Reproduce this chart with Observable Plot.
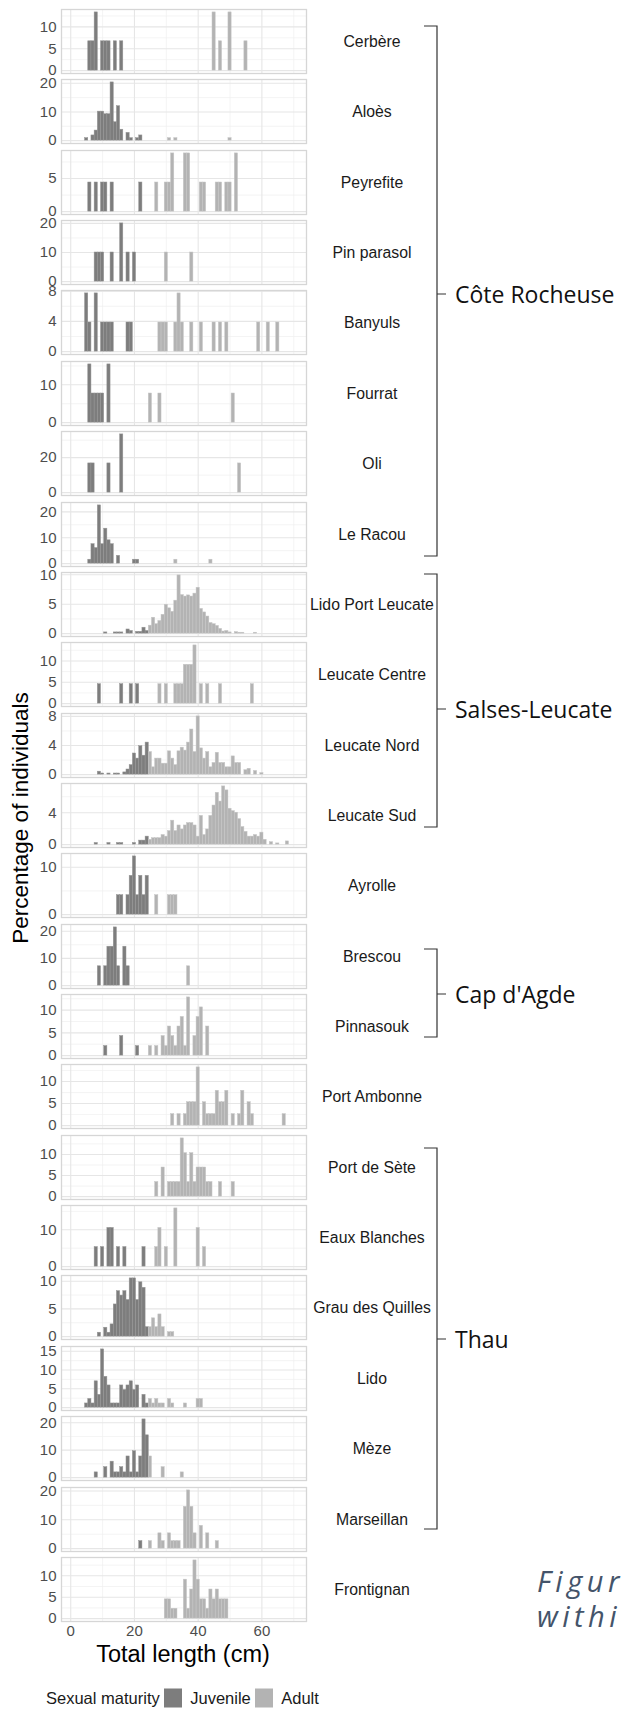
<!DOCTYPE html>
<html><head><meta charset="utf-8">
<script src="https://cdn.jsdelivr.net/npm/d3@7"></script>
<script src="https://cdn.jsdelivr.net/npm/@observablehq/plot@0.6"></script>
<style>
html,body{margin:0;padding:0;background:#fff;}
body{width:621px;height:1709px;position:relative;overflow:hidden;font-family:"Liberation Sans",Arial,sans-serif;}
.panel{position:absolute;left:0;}
.site{position:absolute;transform:translate(-50%,-50%);font-size:15.8px;color:#1a1a1a;white-space:nowrap;}
.group{position:absolute;transform:translateY(-50%);font-family:"Open Sans","Noto Sans",sans-serif;font-size:23px;color:#111;white-space:nowrap;}
.ytitle{position:absolute;left:21px;top:818px;transform:translate(-50%,-50%) rotate(-90deg);font-size:22.5px;color:#000;white-space:nowrap;}
.xtitle{position:absolute;left:183px;top:1654px;transform:translate(-50%,-50%);font-size:23.5px;color:#000;white-space:nowrap;}
.legend{position:absolute;left:46px;top:1698px;transform:translateY(-50%);display:flex;align-items:center;font-size:16.5px;color:#1a1a1a;white-space:nowrap;}
.sw{display:inline-block;width:18.5px;height:18.5px;margin:0 8px 0 4px;}
.caption{position:absolute;left:537px;top:1563px;width:84px;overflow:hidden;font-family:"Open Sans","Noto Sans",sans-serif;font-style:italic;font-size:29px;letter-spacing:4.5px;line-height:35px;color:#44546a;white-space:nowrap;}
</style></head><body>
<script>
// ---------- data: percentage of individuals per 1-cm length bin ----------
const sites = ["Cerbère","Aloès","Peyrefite","Pin parasol","Banyuls","Fourrat","Oli","Le Racou",
  "Lido Port Leucate","Leucate Centre","Leucate Nord","Leucate Sud","Ayrolle","Brescou","Pinnasouk",
  "Port Ambonne","Port de Sète","Eaux Blanches","Grau des Quilles","Lido","Mèze","Marseillan","Frontignan"];

const yTicks = [[0,5,10],[0,10,20],[0,5],[0,10,20],[0,4,8],[0,10],[0,20],[0,10,20],
  [0,5,10],[0,5,10],[0,4,8],[0,4],[0,10],[0,10,20],[0,5,10],
  [0,5,10],[0,5,10],[0,10],[0,5,10],[0,5,10,15],[0,10,20],[0,10,20],[0,5,10]];

const xTicks = [0,20,40,60];
const xMinor = [10,30,50,70];
const stages = ["Juvenile","Adult"];

const juvCerbere = [[6,6.7],[7,6.7],[8,13.3],[10,6.7],[11,6.7],[12,6.7],[14,6.7],[16,6.7]];
const aduCerbere = [[45,13.3],[47,6.7],[50,13.3],[55,6.7]];

const juvAloes = [[5,0.85],[7,1.8],[8,3.5],[9,10.1],[10,10.1],[11,9.2],[12,9.2],[13,20.3],[14,6.4],[15,12.0],[16,3.8],[18,2.7],[19,0.85],[21,0.85],[22,1.8]];
const aduAloes = [[31,0.85],[33,0.85],[50,0.85]];

const juvPeyrefite = [[6,4.4],[8,4.4],[10,4.4],[11,4.4],[13,4.4],[22,4.4]];
const aduPeyrefite = [[27,4.4],[30,4.4],[31,4.4],[32,8.8],[36,8.8],[37,8.8],[41,4.4],[42,4.4],[46,4.4],[47,4.4],[49,4.4],[50,4.4],[52,8.8]];

const juvPinParasol = [[8,10],[9,10],[10,10],[13,10],[16,20],[18,10],[20,10]];
const aduPinParasol = [[30,10],[38,10]];

const juvBanyuls = [[5,7.7],[6,3.85],[8,7.7],[10,3.85],[11,3.85],[12,3.85],[13,3.85],[18,3.85],[19,3.85]];
const aduBanyuls = [[28,3.85],[29,3.85],[30,3.85],[33,3.85],[34,7.7],[35,3.85],[38,3.85],[41,3.85],[45,3.85],[47,3.85],[49,3.85],[59,3.85],[62,3.85],[65,3.85]];

const juvFourrat = [[6,15.4],[7,7.7],[8,7.7],[9,7.7],[10,7.7],[12,15.4]];
const aduFourrat = [[25,7.7],[28,7.7],[51,7.7]];

const juvOli = [[6,16.7],[7,16.7],[12,16.7],[16,33.3]];
const aduOli = [[53,16.7]];

const juvLeRacou = [[6,1.5],[7,7.5],[8,6.0],[9,22.5],[10,7.5],[11,13.5],[12,9.0],[13,7.5],[15,3.0],[20,1.5],[21,1.5]];
const aduLeRacou = [[33,1.5],[44,1.5]];

const juvLidoPortLeucate = [[11,0.2],[14,0.2],[15,0.2],[16,0.2],[18,0.7],[19,0.45],[21,0.3],[22,0.3],[23,1.0],[24,0.45]];
const aduLidoPortLeucate = [[25,1.35],[26,2.7],[27,1.6],[28,2.15],[29,3.2],[30,4.9],[31,4.3],[32,3.7],[33,5.6],[34,9.9],[35,6.55],[36,6.3],[37,6.5],[38,6.3],[39,6.8],[40,7.8],[41,4.2],[42,3.6],[43,2.9],[44,1.8],[45,1.6],[46,1.3],[47,0.8],[48,0.35],[49,0.45],[50,0.2],[52,0.25],[53,0.15],[54,0.15],[58,0.15]];

const juvLeucateCentre = [[9,4.55],[16,4.55],[19,4.55],[21,4.55]];
const aduLeucateCentre = [[28,4.55],[30,4.55],[33,4.55],[34,4.55],[35,4.55],[36,9.09],[37,9.09],[38,9.09],[39,13.64],[41,4.55],[43,4.55],[47,4.55],[57,4.55]];

const juvLeucateNord = [[9,0.4],[10,0.15],[12,0.15],[14,0.15],[15,0.15],[17,0.3],[18,0.7],[19,1.3],[20,2.9],[21,2.2],[22,3.9],[23,2.6],[24,4.4]];
const aduLeucateNord = [[25,3.1],[26,1.0],[27,2.2],[28,2.2],[29,1.5],[30,1.5],[31,3.2],[32,2.2],[33,1.3],[34,3.2],[35,3.7],[36,3.3],[37,4.4],[38,6.2],[39,3.1],[40,8.0],[41,3.6],[42,2.2],[43,3.1],[44,1.0],[45,1.6],[46,3.0],[47,1.6],[48,1.6],[49,1.0],[50,1.0],[51,2.5],[52,1.6],[53,1.6],[55,0.6],[56,0.8],[58,0.5],[60,0.2]];

const juvLeucateSud = [[8,0.2],[12,0.2],[15,0.2],[16,0.2],[20,0.2],[22,0.5],[23,0.5],[24,1.0]];
const aduLeucateSud = [[25,0.6],[26,0.8],[27,0.8],[28,0.8],[29,1.2],[30,1.0],[31,1.7],[32,3.0],[33,1.7],[34,2.4],[35,1.9],[36,2.4],[37,2.7],[38,2.7],[39,2.4],[40,1.0],[41,3.6],[42,1.2],[43,1.9],[44,3.6],[45,4.9],[46,6.5],[47,5.4],[48,7.3],[49,6.8],[50,4.5],[51,4.2],[52,4.0],[53,3.2],[54,2.2],[55,1.6],[56,1.0],[57,1.0],[58,1.2],[59,1.0],[60,1.5],[61,0.6],[63,0.3],[65,0.15],[68,0.4]];

const juvAyrolle = [[15,4.1],[16,4.1],[18,4.1],[19,8.2],[20,12.3],[21,4.1],[22,8.2],[23,4.1],[24,8.2]];
const aduAyrolle = [[27,4.1],[31,4.1],[32,4.1],[33,4.1]];

const juvBrescou = [[9,7.1],[11,7.1],[12,14.3],[13,14.3],[14,21.4],[15,7.1],[17,14.3],[18,7.1]];
const aduBrescou = [[37,7.1]];

const juvPinnasouk = [[11,2.1],[16,4.3],[21,2.1]];
const aduPinnasouk = [[25,2.1],[27,2.1],[29,4.3],[30,2.1],[31,6.4],[32,4.3],[33,2.1],[34,6.4],[35,8.5],[36,2.1],[37,12.8],[39,4.3],[40,8.5],[41,10.6],[43,6.4]];

const juvPortAmbonne = [];
const aduPortAmbonne = [[32,2.6],[34,2.6],[36,2.6],[37,5.3],[38,5.3],[39,5.3],[40,13.2],[42,5.3],[43,2.6],[44,2.6],[45,2.6],[46,7.9],[47,5.3],[48,5.3],[49,7.9],[51,2.6],[53,2.6],[54,7.9],[56,5.3],[57,2.6],[67,2.6]];

const juvPortDeSete = [];
const aduPortDeSete = [[27,3.45],[29,6.9],[31,3.45],[32,3.45],[33,3.45],[34,3.45],[35,13.8],[36,10.3],[37,3.45],[38,10.3],[39,3.45],[40,6.9],[41,6.9],[42,6.9],[43,3.45],[44,3.45],[47,3.45],[51,3.45]];

const juvEauxBlanches = [[8,5.3],[10,5.3],[12,10.5],[13,10.5],[15,5.3],[17,5.3],[23,5.3]];
const aduEauxBlanches = [[27,5.3],[28,10.5],[30,5.3],[33,15.8],[40,10.5],[42,5.3]];

const juvGrauDesQuilles = [[9,0.7],[11,1.6],[12,0.7],[13,2.2],[14,5.8],[15,8.2],[16,7.4],[17,8.2],[18,6.6],[19,10.5],[20,10.5],[21,6.6],[22,9.8],[23,8.8],[24,1.7]];
const aduGrauDesQuilles = [[25,1.7],[26,3.3],[27,1.7],[28,4.0],[29,1.7],[31,0.8],[32,0.8]];

const juvLido = [[5,1.1],[6,2.3],[7,1.1],[8,7.0],[9,3.4],[10,15.5],[11,8.2],[12,5.9],[13,1.1],[14,1.1],[15,1.1],[16,5.9],[17,4.7],[18,5.9],[19,7.0],[20,4.7],[21,5.9],[23,3.4],[24,1.1]];
const aduLido = [[25,2.3],[26,1.1],[27,2.3],[28,1.1],[29,1.1],[31,2.3],[32,1.1],[36,1.1],[40,2.3],[41,2.3]];

const juvMeze = [[8,1.9],[11,3.8],[13,5.8],[14,1.9],[15,1.9],[16,3.8],[17,1.9],[18,7.7],[19,1.9],[20,9.6],[21,1.9],[22,7.7],[23,21.2],[24,15.4]];
const aduMeze = [[25,7.7],[29,3.8],[35,1.9]];

const juvMarseillan = [[22,2.6]];
const aduMarseillan = [[25,2.6],[28,5.3],[29,2.6],[31,5.3],[32,2.6],[33,2.6],[34,2.6],[36,14.5],[37,20.2],[38,14.5],[39,5.3],[41,7.9],[43,5.3],[46,2.6]];

const juvFrontignan = [];
const aduFrontignan = [[30,4.5],[31,4.5],[32,2.3],[33,2.3],[36,9.1],[37,2.3],[38,6.8],[39,13.6],[40,9.1],[41,4.5],[42,4.5],[43,2.3],[44,6.8],[45,4.5],[46,6.8],[47,4.5],[48,4.5],[49,4.5]];

const juvenile = [juvCerbere,juvAloes,juvPeyrefite,juvPinParasol,juvBanyuls,juvFourrat,juvOli,juvLeRacou,
  juvLidoPortLeucate,juvLeucateCentre,juvLeucateNord,juvLeucateSud,juvAyrolle,juvBrescou,juvPinnasouk,
  juvPortAmbonne,juvPortDeSete,juvEauxBlanches,juvGrauDesQuilles,juvLido,juvMeze,juvMarseillan,juvFrontignan];
const adult = [aduCerbere,aduAloes,aduPeyrefite,aduPinParasol,aduBanyuls,aduFourrat,aduOli,aduLeRacou,
  aduLidoPortLeucate,aduLeucateCentre,aduLeucateNord,aduLeucateSud,aduAyrolle,aduBrescou,aduPinnasouk,
  aduPortAmbonne,aduPortDeSete,aduEauxBlanches,aduGrauDesQuilles,aduLido,aduMeze,aduMarseillan,aduFrontignan];

// groups of sites marked by brackets
const groupNames = ["Côte Rocheuse","Salses-Leucate","Cap d'Agde","Thau"];
const groupFirst = ["Cerbère","Lido Port Leucate","Brescou","Port de Sète"];
const groupLast  = ["Le Racou","Leucate Sud","Pinnasouk","Marseillan"];

// ---------- layout ----------
const colors = {Juvenile:"#7d7d7d", Adult:"#b3b3b3"};
const strokes = {Juvenile:"#959595", Adult:"#c6c6c6"};
const PANEL_TOP = 9, PANEL_STEP = 70.36, PANEL_H = 64;
const FRAME_L = 61, FRAME_R = 306;
const panelTop = i => PANEL_TOP + i * PANEL_STEP;

sites.forEach((site, i) => {
  const rows = [];
  const base = new Map();
  juvenile[i].forEach(([len, pct]) => { rows.push({len, y1: 0, y2: pct, stage: "Juvenile"}); base.set(len, pct); });
  adult[i].forEach(([len, pct]) => { const b = base.get(len) || 0; rows.push({len, y1: b, y2: b + pct, stage: "Adult"}); });
  const M = d3.max(rows, d => d.y2);
  const ticks = yTicks[i];
  const step = ticks[1] - ticks[0];
  const lo = -0.05 * M, hi = 1.05 * M;
  const minor = [ticks[0] - step/2, ...ticks.map(t => t + step/2)].filter(v => v > lo && v < hi);
  const last = i === sites.length - 1;
  const marks = [
    Plot.gridX(xMinor, {stroke: "#efefef", strokeOpacity: 1, strokeWidth: 0.7}),
    Plot.gridY(minor, {stroke: "#efefef", strokeOpacity: 1, strokeWidth: 0.7}),
    Plot.gridX(xTicks, {stroke: "#e6e6e6", strokeOpacity: 1, strokeWidth: 1.1}),
    Plot.gridY(ticks, {stroke: "#e6e6e6", strokeOpacity: 1, strokeWidth: 1.1}),
    ...stages.map(s => Plot.rect(rows.filter(d => d.stage === s), {
      x1: d => d.len - 0.5, x2: d => d.len + 0.5, y1: "y1", y2: "y2",
      fill: colors[s], stroke: strokes[s], strokeWidth: 0.5
    })),
    Plot.frame({stroke: "#d6d6d6", strokeWidth: 1.3}),
    Plot.axisY(ticks, {tickSize: 0, tickPadding: 5, fontSize: 15})
  ];
  if (last) marks.push(Plot.axisX(xTicks, {tickSize: 0, tickPadding: 4, fontSize: 15}));
  const chart = Plot.plot({
    width: FRAME_R + 4, height: PANEL_H,
    marginLeft: FRAME_L, marginRight: 4, marginTop: 0, marginBottom: 0,
    x: {domain: [-2.9, 74], axis: null},
    y: {domain: [lo, hi], axis: null},
    style: {fontFamily: '"Liberation Sans", Arial, sans-serif', fontSize: "15px", color: "#4d4d4d", overflow: "visible", background: "transparent"},
    marks
  });
  const div = document.createElement("div");
  div.className = "panel";
  div.style.top = panelTop(i) + "px";
  div.appendChild(chart);
  document.body.appendChild(div);

  const lab = document.createElement("div");
  lab.className = "site";
  lab.textContent = site;
  lab.style.left = "372px";
  lab.style.top = (panelTop(i) + PANEL_H / 2 + 1) + "px";
  document.body.appendChild(lab);
});

// ---------- group brackets ----------
const bracketY1 = [26, 574, 949, 1148];
const bracketY2 = [556, 827, 1037, 1529];
const bracketLabY = [294, 709, 994, 1339];
const svg = d3.select(document.body).append("svg")
  .attr("width", 621).attr("height", 1709)
  .style("position", "absolute").style("left", 0).style("top", 0).style("pointer-events", "none");
groupNames.forEach((g, k) => {
  const xv = 437, xh = 424;
  svg.append("path")
    .attr("d", `M${xh},${bracketY1[k]}H${xv}V${bracketY2[k]}H${xh}M${xv},${bracketLabY[k]}H${xv + 9}`)
    .attr("fill", "none").attr("stroke", "#333").attr("stroke-width", 1.2);
  const lab = document.createElement("div");
  lab.className = "group";
  lab.textContent = g;
  lab.style.left = "455px";
  lab.style.top = bracketLabY[k] + "px";
  document.body.appendChild(lab);
});

// ---------- titles, legend, caption ----------
const yt = document.createElement("div"); yt.className = "ytitle"; yt.textContent = "Percentage of individuals"; document.body.appendChild(yt);
const xt = document.createElement("div"); xt.className = "xtitle"; xt.textContent = "Total length (cm)"; document.body.appendChild(xt);
const lg = document.createElement("div"); lg.className = "legend";
lg.innerHTML = `<span>Sexual maturity</span>` + stages.map(s => `<span class="sw" style="background:${colors[s]}"></span><span>${s}</span>`).join("");
document.body.appendChild(lg);
const cap = document.createElement("div"); cap.className = "caption";
cap.innerHTML = "Figure<br>within";
document.body.appendChild(cap);
</script>
</body></html>
